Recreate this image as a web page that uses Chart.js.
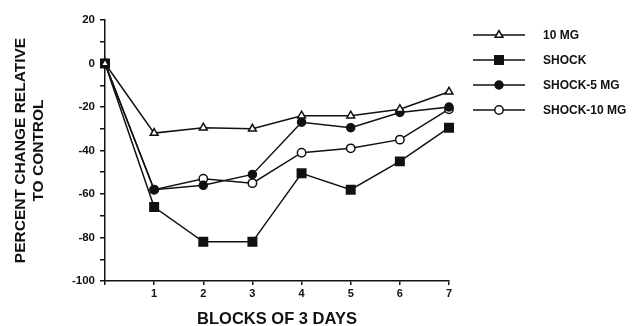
<!DOCTYPE html>
<html>
<head>
<meta charset="utf-8">
<script src="https://cdn.jsdelivr.net/npm/chart.js@4"></script>
<style>
  html, body { margin: 0; padding: 0; background: #fff; }
  #wrap { width: 634px; height: 326px; position: relative; }
</style>
</head>
<body>
<div id="wrap"><canvas id="chart"></canvas></div>
<script>
// Dados
const blocks = [0, 1, 2, 3, 4, 5, 6, 7];
const seriesNames = ["10 MG", "SHOCK", "SHOCK-5 MG", "SHOCK-10 MG"];
const mg10 = [0, -32, -29.5, -30, -24, -24, -21, -13];
const shock = [0, -66, -82, -82, -50.5, -58, -45, -29.5];
const shock5 = [0, -58, -56, -51, -27, -29.5, -22.5, -20];
const shock10 = [0, -58, -53, -55, -41, -39, -35, -21];
const yTicks = [20, 0, -20, -40, -60, -80, -100];

const FONT = "'Liberation Sans', Arial, sans-serif";
const ink = "#111";

// Estilo dos marcadores de cada série
const estilos = [
  { pointStyle: "triangle", radius: 4.5, bg: "#fff" },
  { pointStyle: "rect", radius: 6, bg: ink },
  { pointStyle: "circle", radius: 4, bg: ink },
  { pointStyle: "circle", radius: 4.2, bg: "#fff" }
];
const valores = [mg10, shock, shock5, shock10];

const datasets = valores.map((vals, i) => ({
  label: seriesNames[i],
  data: vals.map((v, j) => ({ x: blocks[j], y: v })),
  borderColor: ink,
  borderWidth: 1.5,
  pointStyle: estilos[i].pointStyle,
  pointRadius: estilos[i].radius,
  pointBackgroundColor: estilos[i].bg,
  pointBorderColor: ink,
  pointBorderWidth: 1.5,
  tension: 0,
  clip: false
}));

// Legenda desenhada à direita (linha + marcador + texto)
const legendaLateral = {
  id: "legendaLateral",
  afterDraw: (chart) => {
    const ctx = chart.ctx;
    ctx.save();
    chart.data.datasets.forEach((ds, i) => {
      const y = 35 + i * 25;
      ctx.strokeStyle = ink;
      ctx.lineWidth = 1.5;
      ctx.beginPath();
      ctx.moveTo(473, y);
      ctx.lineTo(525, y);
      ctx.stroke();
      ctx.fillStyle = ds.pointBackgroundColor;
      ctx.strokeStyle = ink;
      Chart.helpers.drawPoint(ctx, {
        pointStyle: ds.pointStyle,
        radius: ds.pointRadius,
        borderWidth: 1.5,
        rotation: 0
      }, 499, y);
      ctx.fillStyle = ink;
      ctx.font = `bold 12px ${FONT}`;
      ctx.textAlign = "left";
      ctx.textBaseline = "middle";
      ctx.fillText(ds.label, 543, y + 1);
    });
    ctx.restore();
  }
};

new Chart(document.getElementById("chart"), {
  type: "line",
  data: { datasets },
  options: {
    responsive: true,
    maintainAspectRatio: false,
    animation: false,
    layout: { padding: { top: 20, right: 185, bottom: 0, left: 0 } },
    plugins: {
      legend: { display: false },
      tooltip: { enabled: false }
    },
    scales: {
      x: {
        type: "linear",
        min: 0,
        max: 7,
        afterFit: (scale) => { scale.height = 45; },
        grid: { drawOnChartArea: false, tickLength: 4, color: ink, lineWidth: 1.5 },
        border: { color: ink, width: 1.5 },
        ticks: {
          stepSize: 1,
          padding: 2,
          color: ink,
          font: { family: FONT, size: 11, weight: "bold" },
          callback: (v) => (v === 0 ? "" : v)
        },
        title: {
          display: true,
          text: "BLOCKS OF 3 DAYS",
          color: ink,
          font: { family: FONT, size: 16.5, weight: "bold", lineHeight: 0.8 },
          padding: { top: 0, bottom: 0 }
        }
      },
      y: {
        min: -100,
        max: 20,
        afterFit: (scale) => { scale.width = 105; },
        grid: { drawOnChartArea: false, tickLength: 5, color: ink, lineWidth: 1.5 },
        border: { color: ink, width: 1.5 },
        ticks: {
          stepSize: 10,
          padding: 5,
          color: ink,
          font: { family: FONT, size: 11.5, weight: "bold" },
          callback: (v) => (yTicks.includes(v) ? v : "")
        },
        title: {
          display: true,
          text: ["PERCENT CHANGE RELATIVE", "TO CONTROL"],
          color: ink,
          font: { family: FONT, size: 15.5, weight: "bold", lineHeight: 1.2 },
          padding: { top: 11, bottom: 0 }
        }
      }
    }
  },
  plugins: [legendaLateral]
});
</script>
</body>
</html>
